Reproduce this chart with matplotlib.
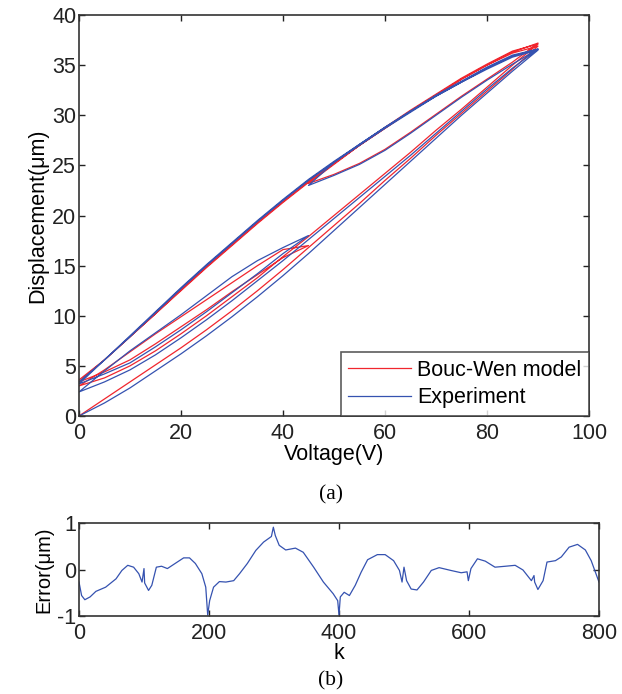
import numpy as np
import matplotlib
matplotlib.use("Agg")
import matplotlib.pyplot as plt

plt.rcParams["font.family"] = ["Liberation Sans", "DejaVu Sans"]
plt.rcParams["axes.unicode_minus"] = False

# branch voltages (V), in time order: 0->90->0->45->0->90->45->90->0
v_up_full = [0, 5, 10, 15, 20, 25, 30, 35, 40, 45, 50, 55, 60, 65, 70, 75, 80, 85, 90]
v_down_full = [90, 85, 80, 75, 70, 65, 60, 55, 50, 45, 40, 35, 30, 25, 20, 15, 10, 5, 0]
v_up_half = [0, 5, 10, 15, 20, 25, 30, 35, 40, 45]
v_down_half = [45, 40, 35, 30, 25, 20, 15, 10, 5, 0]
v_down_top = [90, 85, 80, 75, 70, 65, 60, 55, 50, 45]
v_up_top = [45, 50, 55, 60, 65, 70, 75, 80, 85, 90]

# experiment displacement (um) for each branch
exp_a = [0, 1.3, 2.8, 4.5, 6.2, 8.0, 9.9, 11.9, 14.0, 16.2, 18.5, 20.8, 23.1, 25.4, 27.7, 30.0, 32.2, 34.4, 36.5]
exp_b = [36.5, 35.8, 34.6, 33.3, 31.9, 30.4, 28.8, 27.1, 25.4, 23.6, 21.6, 19.5, 17.3, 15.1, 12.8, 10.4, 8.0, 5.6, 3.2]
exp_c = [3.2, 4.2, 5.3, 6.9, 8.6, 10.4, 12.3, 14.2, 16.2, 18.0]
exp_d = [18.0, 16.8, 15.5, 13.9, 12.0, 10.1, 8.3, 6.5, 4.5, 2.4]
exp_e = [2.4, 3.4, 4.6, 6.1, 7.8, 9.6, 11.5, 13.5, 15.5, 17.6, 19.7, 21.8, 23.9, 26.0, 28.2, 30.4, 32.6, 34.7, 36.6]
exp_f = [36.6, 36.0, 34.8, 33.4, 32.0, 30.4, 28.8, 27.1, 25.3, 23.0]
exp_g = [23.0, 24.0, 25.1, 26.5, 28.2, 30.0, 31.8, 33.5, 35.1, 36.6]
exp_h = [36.6, 35.9, 34.7, 33.3, 31.9, 30.3, 28.7, 27.0, 25.3, 23.5, 21.5, 19.4, 17.2, 15.0, 12.7, 10.3, 7.9, 5.6, 3.4]

# Bouc-Wen model displacement (um)
mod_a = [0, 1.7, 3.4, 5.1, 6.8, 8.6, 10.5, 12.5, 14.6, 16.8, 19.0, 21.2, 23.5, 25.7, 28.0, 30.2, 32.4, 34.6, 36.9]
mod_b = [36.9, 36.2, 35.0, 33.6, 32.0, 30.4, 28.7, 27.0, 25.2, 23.4, 21.4, 19.3, 17.1, 14.9, 12.6, 10.2, 7.9, 5.6, 3.4]
mod_c = [3.4, 4.4, 5.6, 7.2, 8.9, 10.6, 12.4, 14.1, 15.8, 17.0]
mod_d = [17.0, 16.6, 15.0, 13.3, 11.6, 9.9, 8.2, 6.4, 4.6, 3.0]
mod_e = [3.0, 3.8, 5.0, 6.5, 8.2, 10.0, 11.9, 13.8, 15.9, 17.9, 20.0, 22.1, 24.2, 26.3, 28.5, 30.6, 32.8, 35.0, 37.1]
mod_f = [37.1, 36.4, 35.1, 33.7, 32.1, 30.5, 28.8, 27.0, 25.1, 23.2]
mod_g = [23.2, 24.1, 25.2, 26.6, 28.3, 30.1, 31.9, 33.6, 35.3, 37.2]
mod_h = [37.2, 36.3, 35.0, 33.6, 32.0, 30.4, 28.7, 27.0, 25.2, 23.3, 21.3, 19.2, 17.0, 14.8, 12.5, 10.2, 7.9, 5.6, 3.6]

# error vs sample index
err_k = [0, 4, 9, 17, 26, 41, 57, 66, 75, 84, 92, 97, 100, 101, 107, 112, 119, 127, 136, 149,
         161, 170, 179, 189, 195, 198, 201, 207, 216, 226, 238, 247, 259, 272, 284, 296, 299, 302,
         308, 318, 333, 345, 361, 376, 391, 398, 400, 402, 408, 416, 425, 434, 444, 459, 471, 484,
         493, 497, 500, 504, 511, 520, 530, 542, 554, 572, 588, 597, 599, 603, 613, 625, 640, 656,
         671, 683, 696, 700, 701, 706, 714, 720, 733, 742, 754, 767, 779, 788, 800]
err_val = [-0.27, -0.56, -0.65, -0.59, -0.47, -0.38, -0.2, -0.02, 0.09, 0.05, -0.09, -0.27, 0.02,
           -0.29, -0.45, -0.34, 0.05, 0.07, 0.02, 0.14, 0.25, 0.25, 0.13, -0.09, -0.38, -0.98,
           -0.67, -0.38, -0.26, -0.27, -0.24, -0.09, 0.13, 0.41, 0.59, 0.71, 0.91, 0.73, 0.52,
           0.42, 0.46, 0.37, 0.05, -0.27, -0.52, -0.67, -0.98, -0.59, -0.49, -0.56, -0.34, -0.06,
           0.21, 0.32, 0.32, 0.19, -0.02, -0.27, 0.05, -0.24, -0.42, -0.44, -0.27, -0.02, 0.04,
           -0.02, -0.07, -0.05, -0.24, 0.02, 0.23, 0.18, 0.05, 0.07, 0.09, -0.01, -0.24, -0.13,
           -0.27, -0.43, -0.24, 0.16, 0.19, 0.27, 0.48, 0.54, 0.42, 0.19, -0.27]

volt = np.concatenate([v_up_full, v_down_full, v_up_half, v_down_half,
                       v_up_full, v_down_top, v_up_top, v_down_full])
disp_exp = np.concatenate([exp_a, exp_b, exp_c, exp_d, exp_e, exp_f, exp_g, exp_h])
disp_mod = np.concatenate([mod_a, mod_b, mod_c, mod_d, mod_e, mod_f, mod_g, mod_h])

red = "#f0262e"
blue = "#3552b0"
fs = 15.5

fig = plt.figure(figsize=(6.22, 6.94), dpi=100)

# (a) hysteresis loops
ax1 = fig.add_axes([79 / 622, 1 - 416 / 694, 510 / 622, 401 / 694])
ax1.plot(volt, disp_mod, color=red, lw=0.9, label="Bouc-Wen model")
ax1.plot(volt, disp_exp, color=blue, lw=0.9, label="Experiment")
ax1.set_xlim(0, 100)
ax1.set_ylim(0, 40)
ax1.set_xticks(range(0, 101, 20))
ax1.set_yticks(range(0, 41, 5))
ax1.set_xlabel("Voltage(V)", fontsize=fs, labelpad=0)
ax1.set_ylabel("Displacement(μm)", fontsize=fs, labelpad=3)
leg = ax1.legend(loc="lower right", fontsize=fs, frameon=True, fancybox=False,
                 borderaxespad=0, handlelength=2.9, handletextpad=0.3,
                 borderpad=0.35, labelspacing=0.3)
leg.get_frame().set_edgecolor("#333333")
leg.get_frame().set_linewidth(1.2)

# (b) error
ax2 = fig.add_axes([79 / 622, 1 - 616 / 694, 520 / 622, 93 / 694])
ax2.plot(err_k, err_val, color=blue, lw=0.9)
ax2.set_xlim(0, 800)
ax2.set_ylim(-1, 1)
ax2.set_xticks(range(0, 801, 200))
ax2.set_yticks([-1, 0, 1])
ax2.set_xlabel("k", fontsize=fs, labelpad=-1)
ax2.set_ylabel("Error(μm)", fontsize=fs - 1, labelpad=3)

for ax in (ax1, ax2):
    ax.tick_params(direction="in", top=True, right=True, length=4, width=1,
                   labelsize=fs, colors="#222222", pad=2)
    ax.tick_params(axis="x", pad=5)
    for s in ax.spines.values():
        s.set_color("#333333")
        s.set_linewidth(1.2)

fig.text(331 / 622, 1 - 495 / 694, "(a)", ha="center", va="center",
         fontsize=fs, family=["Liberation Serif", "DejaVu Serif"])
fig.text(331 / 622, 1 - 681 / 694, "(b)", ha="center", va="center",
         fontsize=fs, family=["Liberation Serif", "DejaVu Serif"])

fig.savefig("out.png", dpi=100)
